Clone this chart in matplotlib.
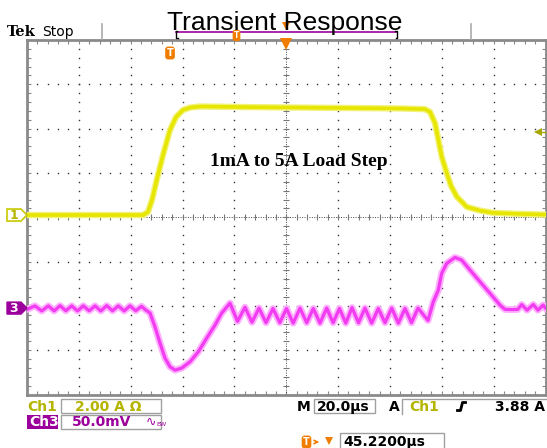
import numpy as np
import matplotlib
matplotlib.use("Agg")
import matplotlib.pyplot as plt
from matplotlib.patches import Polygon, Rectangle

# scope settings
time_div = 20.0      # us/div
ch1_div = 2.0        # A/div
ch3_div = 50.0       # mV/div
horiz_pos = 45.22    # us, screen centre after trigger
ch1_pos = 4.05       # ground position, divisions from bottom
ch3_pos = 1.95
trig_level = 3.88    # A

# Ch1: load current (A), time from trigger (us)
ch1_t = [-54.78, -10.03, -8.11, -6.56, -4.75, -2.32, 0.38, 2.69, 5.39, 8.09,
         11.95, 31.2, 50.5, 69.8, 89.1, 98.7, 100.7, 102.6, 105.2, 107.1,
         108.8, 111.0, 114.8, 120.0, 125.0, 135.4, 145.22]
ch1_amp = [0.0, 0.0, 0.14, 0.68, 1.58, 2.71, 3.84, 4.42, 4.74, 4.85,
           4.90, 4.87, 4.85, 4.83, 4.81, 4.78, 4.65, 4.15, 2.63, 1.90,
           1.31, 0.83, 0.37, 0.20, 0.10, 0.05, 0.02]

# Ch3: output voltage deviation (mV)
ch3_t = [-54.78, -51.69, -49.11, -46.56, -44.29, -42.05, -39.81, -37.54, -35.30, -33.06,
         -30.79, -28.55, -26.31, -24.04, -21.80, -19.56, -17.29, -15.05, -12.85, -10.61,
         -9.26, -7.33, -5.41, -3.48, -1.55, 0.38, 2.31, 4.89, 8.09, 11.29,
         14.53, 17.74, 20.32, 23.52, 26.42, 29.31, 32.01, 34.71, 37.41, 40.11,
         42.73, 45.32, 47.90, 50.52, 53.11, 55.65, 58.24, 60.82, 63.29, 65.76,
         68.19, 70.58, 73.09, 75.59, 78.18, 80.73, 83.31, 85.90, 88.44, 91.03,
         93.54, 96.04, 99.90, 101.94, 103.87, 105.18, 107.11, 110.31, 112.90, 116.10,
         119.96, 123.82, 127.67, 129.60, 132.30, 134.5, 136.04, 138.1, 140.52, 142.3,
         144.3, 145.22]
ch3_mv = [-1.5, 2.5, -3.2, 2.5, -3.2, 2.8, -3.0, 2.5, -3.2, 2.6,
          -3.0, 2.5, -3.2, 2.8, -3.0, 2.5, -3.2, 2.6, -3.0, 2.0,
          -1.5, -5.6, -21.1, -39.5, -56.4, -66.2, -70.0, -67.7, -60.6, -49.3,
          -33.9, -19.2, -5.6, 5.6, -15.0, 1.0, -16.0, 0.0, -16.5, -0.5,
          -16.5, -0.5, -17.0, 0.0, -16.5, -0.5, -17.0, 0.0, -16.5, -0.5,
          -17.0, 0.5, -16.5, 0.0, -17.0, -0.5, -16.5, 0.0, -17.0, -0.5,
          -16.5, 0.0, -14.0, 7.1, 20.3, 39.2, 50.4, 57.2, 54.2, 42.9,
          29.7, 16.6, 3.4, -1.5, -1.7, -1.5, 4.0, -2.3, 4.0, -2.3,
          3.4, 0.0]

W, H = 547, 448
L, R, T, B = 27, 545.5, 40, 394.5
div_w = (R - L) / 10
div_h = (B - T) / 8

fig = plt.figure(figsize=(W / 100, H / 100), dpi=100)
fig.patch.set_facecolor("white")
ax = fig.add_axes([L / W, 1 - B / H, (R - L) / W, (B - T) / H])
t0 = horiz_pos - 5 * time_div
t1 = horiz_pos + 5 * time_div
ax.set_xlim(t0, t1)
ax.set_ylim(0, 8)

# graticule
major_x = t0 + time_div * np.arange(1, 10)
minor_x = t0 + time_div / 5 * np.arange(1, 50)
major_y = np.arange(1, 8)
minor_y = np.arange(1, 40) / 5
dot = dict(ls="none", marker="s", ms=1.0, mew=0, color="#333333")
for xm in major_x:
    if abs(xm - horiz_pos) > 1e-6:
        ax.plot(np.full(len(minor_y), xm), minor_y, **dot)
for ym in major_y:
    if ym != 4:
        ax.plot(minor_x, np.full(len(minor_x), ym), **dot)
ax.axhline(4, ls=(0, (1, 1.5)), lw=0.7, color="#444444")
ax.axvline(horiz_pos, ls=(0, (1, 1.5)), lw=0.7, color="#444444")
ax.plot(minor_x, np.full(len(minor_x), 4), ls="none", marker="|", ms=4, mew=0.8, color="#777777")
ax.plot(np.full(len(minor_y), horiz_pos), minor_y, ls="none", marker="_", ms=4, mew=0.8, color="#777777")

ax1 = ax.twinx()
ax1.set_ylim(-ch1_pos * ch1_div, (8 - ch1_pos) * ch1_div)
ax3 = ax.twinx()
ax3.set_ylim(-ch3_pos * ch3_div, (8 - ch3_pos) * ch3_div)
for a in (ax1, ax3):
    a.axis("off")

ax.set_xticks(minor_x)
ax.set_yticks(minor_y)
ax.tick_params(axis="both", which="both", direction="in", length=3, width=0.8,
               color="#888888", top=True, right=True, bottom=True, left=True,
               labelbottom=False, labelleft=False, labeltop=False, labelright=False)
for s in ax.spines.values():
    s.set_color("#8a8a8a")
    s.set_linewidth(2)

# traces
ax1.plot(ch1_t, ch1_amp, color="#f2f27a", lw=4.6, solid_joinstyle="round")
ax1.plot(ch1_t, ch1_amp, color="#e6e600", lw=2.6, solid_joinstyle="round")
ax3.plot(ch3_t, ch3_mv, color="#ffb0ff", lw=5.0, solid_joinstyle="round")
ax3.plot(ch3_t, ch3_mv, color="#f23cf2", lw=2.3, solid_joinstyle="round")

ax.text(horiz_pos + 0.25 * time_div, 5.15, "1mA to 5A Load Step", ha="center", va="baseline",
        family="Liberation Serif", weight="bold", fontsize=14)

# overlay in screen pixels for the scope chrome
ov = fig.add_axes([0, 0, 1, 1], zorder=5)
ov.set_xlim(0, W)
ov.set_ylim(H, 0)
ov.axis("off")
ov.patch.set_alpha(0)

orange = "#f07c00"
olive = "#b4b400"
purple = "#9c009c"
cx = L + 5 * div_w
trig_x = L + (0 - t0) / time_div * div_w

# top bar
for xs in (102, 471):
    ov.plot([xs, xs], [24, 39], color="#aaaaaa", lw=1.2)
ov.plot([176, 397], [32.4, 32.4], color=purple, lw=1.2)
ov.plot([177, 176, 176, 178], [31, 31, 38, 38], color="black", lw=1)
ov.plot([395, 397, 397, 396], [31, 31, 38, 38], color="black", lw=1)
ov.plot(cx, 26, marker="v", ms=6, color=orange, mew=0)
ov.text(236.5, 35.5, "T", ha="center", va="center", color="white", fontsize=5.5, weight="bold",
        bbox=dict(boxstyle="round,pad=0.15,rounding_size=0.3", fc=orange, ec="none"))
ov.text(285, 30, "Transient Response", ha="center", va="baseline",
        family="Liberation Sans", fontsize=19)
ov.text(7, 36, "Tek", ha="left", va="baseline", family="DejaVu Serif", weight="bold", fontsize=10.5)
ov.text(42, 36, "Stop", ha="left", va="baseline", family="DejaVu Sans", fontsize=10)

# graticule markers
ov.plot(cx, 44.5, marker="v", ms=8, color=orange, mew=0)
ov.text(trig_x + 1, 53, "T", ha="center", va="center", color="white", fontsize=7, weight="bold",
        bbox=dict(boxstyle="round,pad=0.15,rounding_size=0.3", fc=orange, ec="none"))
ty = B - (ch1_pos + trig_level / ch1_div) * div_h
ov.plot(538, ty + 3, marker="<", ms=6, color="#a8a800", mew=0)
ov.plot([539, 545], [ty + 3, ty + 3], color="#a8a800", lw=1)

y1 = B - ch1_pos * div_h
y3 = B - ch3_pos * div_h
ov.add_patch(Polygon([[7, y1 - 6], [21, y1 - 6], [27, y1], [21, y1 + 6], [7, y1 + 6]],
                     closed=True, fc="white", ec="#c8c800", lw=1.2))
ov.text(14, y1 + 0.5, "1", ha="center", va="center", color=olive, fontsize=9, weight="bold")
ov.add_patch(Polygon([[7, y3 - 6], [21, y3 - 6], [27, y3], [21, y3 + 6], [7, y3 + 6]],
                     closed=True, fc=purple, ec=purple, lw=1))
ov.text(14, y3 + 0.5, "3", ha="center", va="center", color="white", fontsize=9, weight="bold")

# status readouts
box = dict(fill=False, ec="#a0a0a0", lw=1)
st = dict(va="center", family="DejaVu Sans", weight="bold", fontsize=10)
ov.text(27, 407, "Ch1", ha="left", color=olive, **st)
ov.add_patch(Rectangle((61, 399.5), 100, 14, **box))
ov.text(75, 407, "2.00 A \u03a9", ha="left", color=olive, **st)

ov.add_patch(Rectangle((27, 415), 31, 14, fc=purple, ec="none"))
ov.text(29, 422, "Ch3", ha="left", color="white", **st)
ov.add_patch(Rectangle((61, 415), 100, 14, **box))
ov.text(72, 422, "50.0mV", ha="left", color=purple, **st)
ov.text(146, 422, "\u223f", ha="left", color=purple, va="center", family="DejaVu Sans", fontsize=9)
ov.text(156, 424, "BW", ha="left", color=purple, va="center", family="DejaVu Sans", fontsize=4.5)

ov.text(297, 407, "M", ha="left", color="black", **st)
ov.add_patch(Rectangle((313.5, 399.5), 61, 14, **box))
ov.text(317, 407, "20.0\u00b5s", ha="left", color="black", **st)
ov.text(389, 407, "A", ha="left", color="black", **st)
ov.plot([402, 402, 547], [414, 399.5, 399.5], color="#a0a0a0", lw=1)
ov.text(409, 407, "Ch1", ha="left", color=olive, **st)
ov.plot([457.5, 460.5, 462.5, 465.5], [410.5, 410.5, 402.5, 402.5], color="black", lw=2)
ov.text(545, 407, "3.88 A", ha="right", color="black", **st)

ov.text(306.5, 442, "T", ha="center", va="center", color="white", fontsize=7, weight="bold",
        bbox=dict(boxstyle="round,pad=0.15,rounding_size=0.3", fc=orange, ec="none"))
ov.annotate("", xy=(322, 442), xytext=(313, 442),
            arrowprops=dict(arrowstyle="->", color=orange, lw=1.2, mutation_scale=6))
ov.plot(328.5, 441, marker="v", ms=6, color=orange, mew=0)
ov.add_patch(Rectangle((340, 433.5), 104, 16, **box))
ov.text(343, 442, "45.2200\u00b5s", ha="left", color="black", **st)

fig.savefig("out.png", dpi=100, facecolor="white")
